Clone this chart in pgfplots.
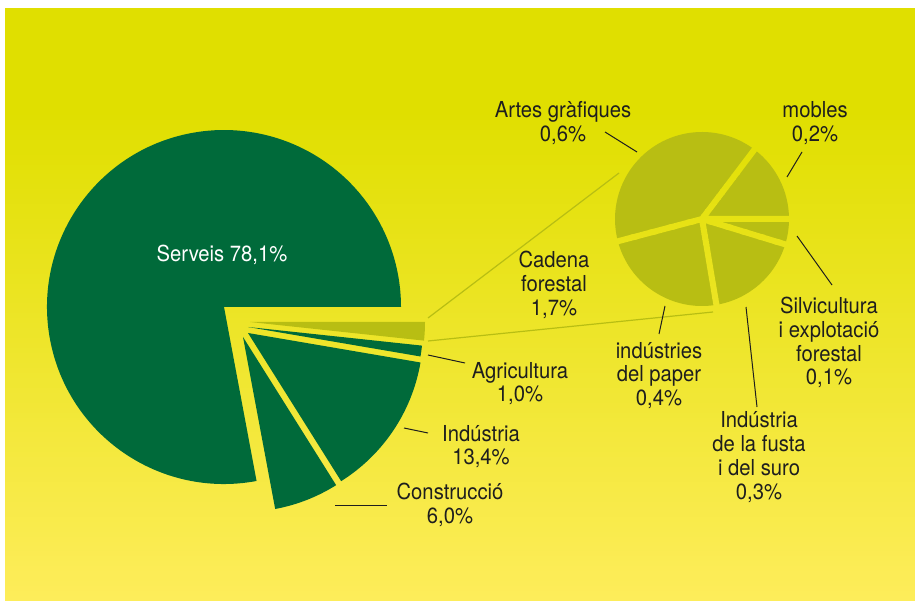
\documentclass[border=0pt]{standalone}
\usepackage{pgfplots}
\pgfplotsset{compat=1.18}
\usepackage{fontspec}
\setmainfont[FakeStretch=0.92]{TeX Gyre Heros}
\definecolor{bgtop}{RGB}{224,223,0}
\definecolor{bgbot}{RGB}{254,237,92}
\definecolor{dkgreen}{RGB}{0,106,58}
\definecolor{olivec}{RGB}{184,190,19}
\definecolor{labc}{RGB}{30,30,30}
\newcommand\lfont{\fontsize{22}{24}\selectfont}
\newcommand\lab[3]{\node[anchor=base,inner sep=0pt,text=labc,font=\lfont] at (axis cs:#1,#2) {#3};}
\newcommand\bgfill{%
  \fill[bgtop] (axis cs:5,8) rectangle (axis cs:915,112);%
  \pgfplotsinvokeforeach{0,...,98}{%
    \fill[bgbot!##1!bgtop] (axis cs:5,{110+4.96*##1}) rectangle (axis cs:915,{110.6+4.96*(##1+1)});}}
\newcommand\seppath[1]{(axis cs:702,219) ++({#1}:-1pt) ++({#1+90}:3pt) -- ++({#1}:98pt) -- ++({#1-90}:6pt) -- ++({#1}:-98pt) -- cycle}
% main pie (percent)
\def\vCad{1.7}\def\vAgr{1.0}\def\vInd{13.4}\def\vCon{6.0}\def\vSer{78.1}
\pgfmathsetmacro\tot{\vCad+\vAgr+\vInd+\vCon+\vSer}
\pgfmathsetmacro\eCad{-360*\vCad/\tot}
\pgfmathsetmacro\eAgr{\eCad-360*\vAgr/\tot}
\pgfmathsetmacro\eInd{\eAgr-360*\vInd/\tot}
\pgfmathsetmacro\eCon{\eInd-360*\vCon/\tot}
% forest chain pie (percent)
\def\sSil{0.08}\def\sMob{0.25}\def\sArt{0.67}\def\sPap{0.40}\def\sFus{0.30}
\pgfmathsetmacro\stot{\sSil+\sMob+\sArt+\sPap+\sFus}
\pgfmathsetmacro\sA{360*\sMob/\stot}
\pgfmathsetmacro\sB{\sA+360*\sArt/\stot}
\pgfmathsetmacro\sC{\sB+360*\sPap/\stot}
\pgfmathsetmacro\sD{\sC+360*\sFus/\stot}
\begin{document}%
\begin{tikzpicture}
\begin{axis}[x=1pt,y=1pt,xmin=0,xmax=915,ymin=0,ymax=601,y dir=reverse,
  hide axis,axis lines=none,xtick=\empty,ytick=\empty,clip=false]
\coordinate (BL) at (axis cs:0,601);
\coordinate (TR) at (axis cs:915,0);
\fill[white] (axis cs:0,0) rectangle (axis cs:915,601);
\bgfill
% connector lines
\draw[olivec,line width=1.2pt] (axis cs:428,318) -- (axis cs:619,173);
\draw[olivec,line width=1.2pt] (axis cs:428,341) -- (axis cs:713,312);
% main pie
\fill[dkgreen] (axis cs:224,307) -- ++(\eCon:177pt) arc[start angle=\eCon,end angle=-360,radius=177pt] -- cycle;
\fill[olivec] (axis cs:250,322) -- ++(0:175pt) arc[start angle=0,end angle=\eCad,radius=175pt] -- cycle;
\fill[dkgreen] (axis cs:248,327) -- ++(\eCad:175pt) arc[start angle=\eCad,end angle=\eAgr,radius=175pt] -- cycle;
\fill[dkgreen] (axis cs:248,333) -- ++(\eAgr:175pt) arc[start angle=\eAgr,end angle=\eInd,radius=175pt] -- cycle;
\fill[dkgreen] (axis cs:243,337) -- ++(\eInd:175pt) arc[start angle=\eInd,end angle=\eCon,radius=175pt] -- cycle;
% small pie
\fill[olivec] (axis cs:702,219) -- ++(0:87pt) arc[start angle=0,end angle=\sA,radius=87pt] -- cycle;
\fill[olivec] (axis cs:702,219) -- ++(\sA:87pt) arc[start angle=\sA,end angle=\sB,radius=87pt] -- cycle;
\fill[olivec] (axis cs:702,219) -- ++(\sB:87pt) arc[start angle=\sB,end angle=\sC,radius=87pt] -- cycle;
\fill[olivec] (axis cs:702,219) -- ++(\sC:87pt) arc[start angle=\sC,end angle=\sD,radius=87pt] -- cycle;
\fill[olivec] (axis cs:702,219) -- ++(\sD:87pt) arc[start angle=\sD,end angle=360,radius=87pt] -- cycle;
\begin{scope}
\clip \seppath{0} \seppath{\sA} \seppath{\sB} \seppath{\sC} \seppath{\sD};
\bgfill
\end{scope}
% leader lines
\draw[labc,line width=1pt] (axis cs:605,132) -- (axis cs:637,152);
\draw[labc,line width=1pt] (axis cs:802,152) -- (axis cs:787,177);
\draw[labc,line width=1pt] (axis cs:797,236) -- (axis cs:832,285);
\draw[labc,line width=1pt] (axis cs:665,306) -- (axis cs:659,334);
\draw[labc,line width=1pt] (axis cs:746,307) -- (axis cs:757,407);
\draw[labc,line width=1pt] (axis cs:428,355) -- (axis cs:465,363);
\draw[labc,line width=1pt] (axis cs:404,428) -- (axis cs:428,433);
\draw[labc,line width=1pt] (axis cs:335,505) -- (axis cs:387,505);
% labels
\node[anchor=base,inner sep=0pt,text=white,font=\lfont] at (axis cs:222,262) {Serveis 78,1\%};
\lab{563}{118}{Artes gràfiques}
\lab{563}{141.5}{0,6\%}
\lab{815}{118}{mobles}
\lab{815}{141.5}{0,2\%}
\lab{554}{268}{Cadena}
\lab{554}{292}{forestal}
\lab{554}{315.5}{1,7\%}
\lab{520}{378}{Agricultura}
\lab{520}{401.5}{1,0\%}
\lab{481}{441}{Indústria}
\lab{481}{464.5}{13,4\%}
\lab{450}{499}{Construcció}
\lab{450}{523}{6,0\%}
\lab{659}{358}{indústries}
\lab{659}{381.5}{del paper}
\lab{659}{405}{0,4\%}
\lab{759}{427}{Indústria}
\lab{759}{451}{de la fusta}
\lab{759}{475}{i del suro}
\lab{759}{499}{0,3\%}
\lab{829}{314}{Silvicultura}
\lab{829}{337.5}{i explotació}
\lab{829}{361}{forestal}
\lab{829}{384.5}{0,1\%}
\end{axis}
\pgfresetboundingbox
\useasboundingbox (BL) rectangle (TR);
\end{tikzpicture}%
\end{document}
